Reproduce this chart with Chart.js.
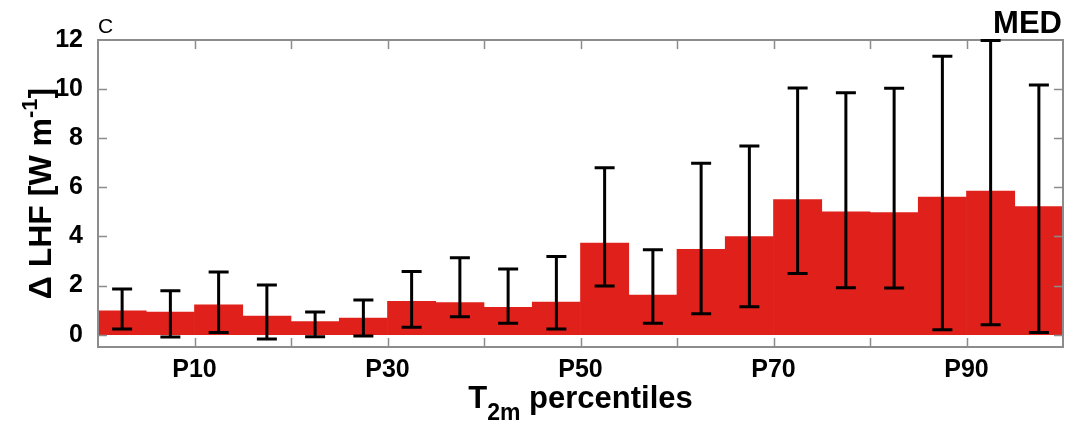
<!DOCTYPE html>
<html>
<head>
<meta charset="utf-8">
<script src="https://cdn.jsdelivr.net/npm/chart.js@4"></script>
<style>
  html, body { margin: 0; padding: 0; background: #fff; }
  canvas { display: block; }
</style>
</head>
<body>
<canvas id="lhfChart" width="1065" height="430"></canvas>
<script>
// Bin centres (5-percentile bins of T2m)
const binCenters = [2.5, 7.5, 12.5, 17.5, 22.5, 27.5, 32.5, 37.5, 42.5, 47.5,
                    52.5, 57.5, 62.5, 67.5, 72.5, 77.5, 82.5, 87.5, 92.5, 97.5];
// Mean LHF change per bin
const lhfMean = [0.97, 0.92, 1.22, 0.76, 0.53, 0.68, 1.36, 1.31, 1.12, 1.33,
                 3.73, 1.61, 3.48, 4.0, 5.5, 5.0, 4.97, 5.6, 5.85, 5.22];
// Error bar limits
const errLow  = [0.23, -0.09, 0.09, -0.17, -0.08, -0.05, 0.3, 0.73, 0.47, 0.23,
                 1.98, 0.47, 0.85, 1.14, 2.49, 1.91, 1.9, 0.2, 0.41, 0.09];
const errHigh = [1.86, 1.79, 2.55, 2.02, 0.92, 1.41, 2.57, 3.13, 2.68, 3.18,
                 6.8, 3.46, 6.98, 7.68, 10.05, 9.85, 10.04, 11.34, 11.98, 10.17];
// Axis ticks
const xTickValues = [0, 10, 20, 30, 40, 50, 60, 70, 80, 90, 100];
const xTickLabels = { 10: 'P10', 30: 'P30', 50: 'P50', 70: 'P70', 90: 'P90' };
const yTickValues = [0, 2, 4, 6, 8, 10, 12];

const FONT = "'Liberation Sans', Arial, Helvetica, sans-serif";
const FRAME = '#8c8c8c';

// frame with inward ticks + error bars
const framePlugin = {
    id: 'frameAndErrors',
    afterDatasetsDraw(chart) {
        const ctx = chart.ctx;
        const a = chart.chartArea;
        const xs = chart.scales.x, ys = chart.scales.y;
        const tick = 9;
        ctx.save();
        ctx.strokeStyle = FRAME;
        ctx.lineWidth = 2;
        ctx.strokeRect(a.left, a.top, a.right - a.left, a.bottom - a.top);
        ctx.lineWidth = 1.5;
        ctx.beginPath();
        xTickValues.forEach(v => {
            if (v === 0 || v === 100) return;
            const px = Math.round(xs.getPixelForValue(v)) + 0.5;
            ctx.moveTo(px, a.bottom); ctx.lineTo(px, a.bottom - tick);
            ctx.moveTo(px, a.top); ctx.lineTo(px, a.top + tick);
        });
        yTickValues.forEach(v => {
            if (v === 12) return;
            const py = Math.round(ys.getPixelForValue(v)) + 0.5;
            ctx.moveTo(a.left, py); ctx.lineTo(a.left + tick, py);
            ctx.moveTo(a.right, py); ctx.lineTo(a.right - tick, py);
        });
        ctx.stroke();

        // error bars
        ctx.strokeStyle = '#000';
        ctx.lineWidth = 3;
        ctx.beginPath();
        binCenters.forEach((c, i) => {
            const px = xs.getPixelForValue(c);
            const yt = ys.getPixelForValue(errHigh[i]);
            const yb = ys.getPixelForValue(errLow[i]);
            ctx.moveTo(px, yt); ctx.lineTo(px, yb);
            ctx.moveTo(px - 10, yt); ctx.lineTo(px + 10, yt);
            ctx.moveTo(px - 10, yb); ctx.lineTo(px + 10, yb);
        });
        ctx.stroke();
        ctx.restore();
    }
};

// axis titles with sub/superscripts, panel letter and region name
const titlePlugin = {
    id: 'titles',
    afterDraw(chart) {
        const ctx = chart.ctx;
        const a = chart.chartArea;
        ctx.save();
        ctx.fillStyle = '#000';
        ctx.textBaseline = 'alphabetic';

        ctx.font = '21px ' + FONT;
        ctx.textAlign = 'left';
        ctx.fillText('C', a.left, 33);

        ctx.font = 'bold 31px ' + FONT;
        ctx.textAlign = 'right';
        ctx.fillText('MED', 1062, 33);

        // x title: T_2m percentiles
        ctx.textAlign = 'left';
        const big = 'bold 31px ' + FONT, small = 'bold 23px ' + FONT;
        ctx.font = big; const wT = ctx.measureText('T').width;
        ctx.font = small; const wSub = ctx.measureText('2m').width;
        ctx.font = big; const wRest = ctx.measureText(' percentiles').width;
        let x0 = (a.left + a.right) / 2 - (wT + wSub + wRest) / 2;
        const base = 408;
        ctx.font = big; ctx.fillText('T', x0, base);
        ctx.font = small; ctx.fillText('2m', x0 + wT, base + 12);
        ctx.font = big; ctx.fillText(' percentiles', x0 + wT + wSub, base);

        // y title: Δ LHF [W m^-1]
        ctx.translate(51, (a.top + a.bottom) / 2);
        ctx.rotate(-Math.PI / 2);
        const yBig = 'bold 32px ' + FONT, ySmall = 'bold 22px ' + FONT;
        ctx.font = yBig; const w1 = ctx.measureText('\u0394 LHF [W m').width;
        ctx.font = ySmall; const w2 = ctx.measureText('-1').width;
        ctx.font = yBig; const w3 = ctx.measureText(']').width;
        let s = -(w1 + w2 + w3) / 2;
        ctx.font = yBig; ctx.fillText('\u0394 LHF [W m', s, 0);
        ctx.font = ySmall; ctx.fillText('-1', s + w1, -14);
        ctx.font = yBig; ctx.fillText(']', s + w1 + w2, 0);
        ctx.restore();
    }
};

const ctx = document.getElementById('lhfChart').getContext('2d');
new Chart(ctx, {
    type: 'bar',
    data: {
        datasets: [{
            data: binCenters.map((c, i) => ({ x: c, y: lhfMean[i] })),
            backgroundColor: '#e0211b',
            borderWidth: 0,
            barPercentage: 1.0,
            categoryPercentage: 1.0
        }]
    },
    options: {
        responsive: false,
        animation: false,
        devicePixelRatio: 1,
        layout: { padding: { left: 0, right: 2, top: 40, bottom: 0 } },
        plugins: { legend: { display: false }, tooltip: { enabled: false } },
        scales: {
            x: {
                type: 'linear',
                min: 0, max: 100,
                offset: false,
                grid: { display: false },
                border: { display: false },
                afterBuildTicks: scale => { scale.ticks = xTickValues.map(v => ({ value: v })); },
                afterFit: scale => {
                    scale.height = 83;
                    scale.paddingLeft = 0;
                    scale.paddingRight = 0;
                },
                ticks: {
                    autoSkip: false,
                    maxRotation: 0,
                    padding: 0,
                    color: '#000',
                    font: { family: FONT, size: 25, weight: 'bold' },
                    callback: v => xTickLabels[v] || ''
                }
            },
            y: {
                min: -0.5, max: 12,
                grid: { display: false },
                border: { display: false },
                afterBuildTicks: scale => { scale.ticks = yTickValues.map(v => ({ value: v })); },
                afterFit: scale => { scale.width = 98; },
                ticks: {
                    padding: 7,
                    color: '#000',
                    font: { family: FONT, size: 25, weight: 'bold' },
                    callback: v => v
                }
            }
        }
    },
    plugins: [framePlugin, titlePlugin]
});
</script>
</body>
</html>
